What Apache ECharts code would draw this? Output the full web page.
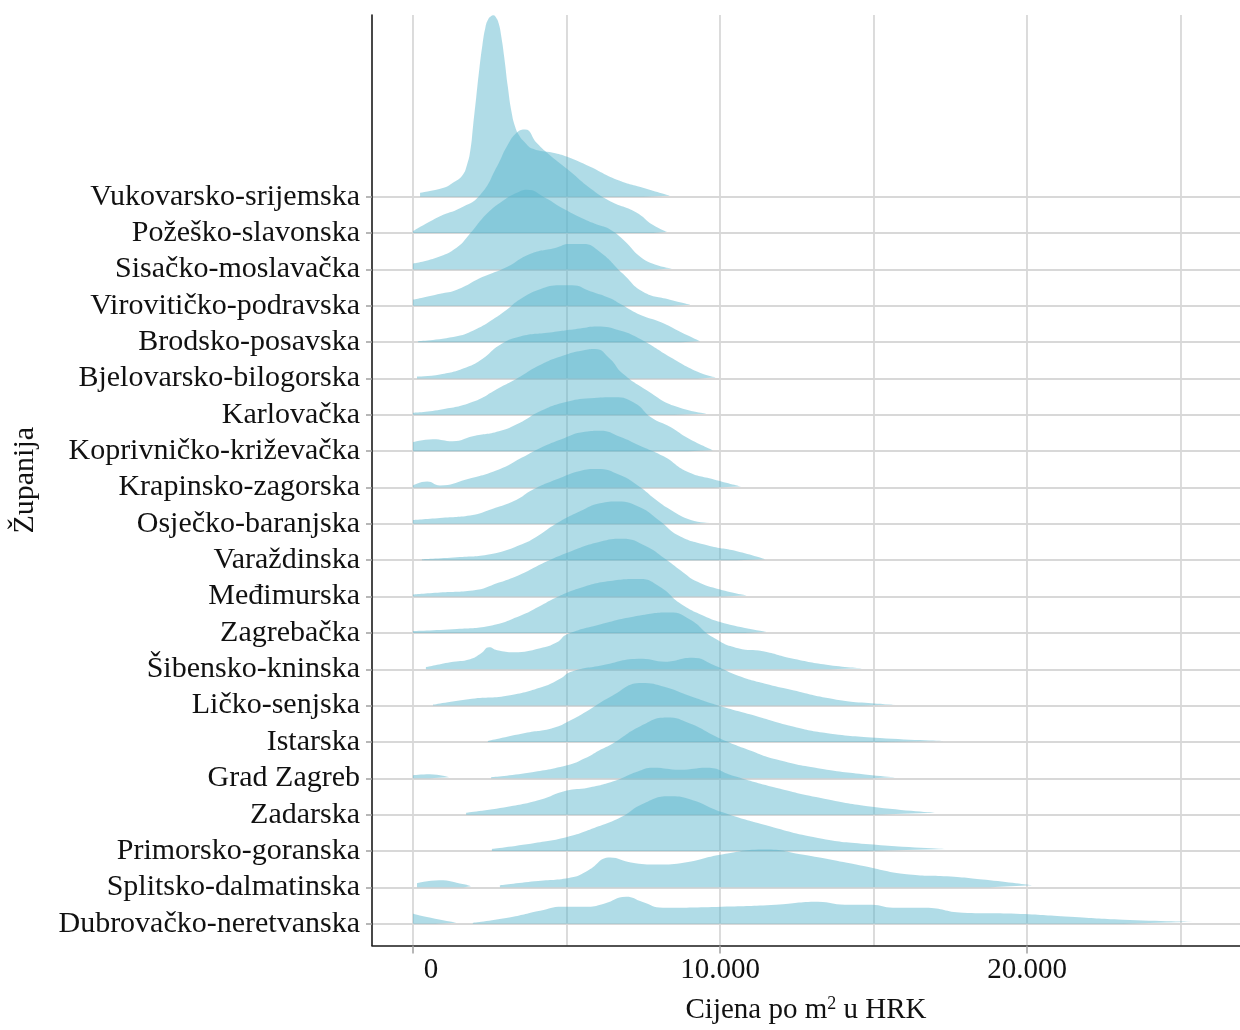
<!DOCTYPE html>
<html>
<head>
<meta charset="utf-8">
<script src="https://cdn.jsdelivr.net/npm/echarts@6/dist/echarts.min.js"></script>
<style>
html,body{margin:0;padding:0;background:#fff;}
#chart{width:1240px;height:1030px;}
</style>
</head>
<body>
<div id="chart"></div>
<script>
// Counties, top to bottom
const counties = ['Vukovarsko-srijemska','Požeško-slavonska','Sisačko-moslavačka','Virovitičko-podravska','Brodsko-posavska','Bjelovarsko-bilogorska','Karlovačka','Koprivničko-križevačka','Krapinsko-zagorska','Osječko-baranjska','Varaždinska','Međimurska','Zagrebačka','Šibensko-kninska','Ličko-senjska','Istarska','Grad Zagreb','Zadarska','Primorsko-goranska','Splitsko-dalmatinska','Dubrovačko-neretvanska'];

// Density curves: price per m2 (HRK) and relative density (null = gap)
const vukX = [230,1000,1300,1600,1760,1870,1960,2060,2160,2260,2360,2450,2540,2620,2700,2790,2880,2980,3090,3210,3330,3450,3600,3910,4560,5020,5770,6640,7490,8370];
const vukH = [4,9,14,21,32,47,72,100,128,152,170,178,181,182,180,174,160,138,110,85,70,62,56,48,44,40,30,17,9,1];
const pozX = [0,880,1530,2180,2740,3060,3390,3650,4040,4460,5110,5770,6420,7260,7820,8270];
const pozH = [2,17,25,38,67,87,101,104,90,78,62,45,32,21,8,1];
const sisX = [0,780,1430,1860,2410,2930,3390,3710,4300,4950,5600,5990,6420,6910,7390,7880,8440];
const sisH = [6,12,22,36,56,69,77,80,72,60,50,45,40,28,13,5,1];
const virX = [0,880,1430,2280,3060,3810,4630,5110,5540,6090,6840,7490,8370,9050];
const virH = [6,12,16,29,39,52,58,62,62,54,32,14,6,1];
const broX = [160,1430,2050,2610,3030,3490,4140,4790,5180,5770,6420,6770,7430,8080,8730,9350];
const broH = [1,6,13,23,32,43,53,57,57,51,44,38,27,20,10,1];
const bjeX = [130,880,1730,2280,2800,3490,4460,5440,5990,6740,7430,8400,9250,9870];
const bjeH = [2,4,11,20,33,42,46,50,52,48,39,21,7,1];
const karX = [0,880,1950,2800,3360,4140,4950,5600,5930,6420,6810,7650,8500,9580];
const karH = [2,5,13,27,36,50,60,65,66,56,42,24,9,1];
const kopX = [0,650,1300,1950,2800,3450,4140,4950,5770,6580,7230,7750,8400,8960,9770];
const kopH = [9,12,10,15,20,28,40,49,53,54,48,34,24,13,1];
const kraX = [0,460,880,1730,2800,3550,4100,4790,5600,6090,6740,7390,8180,8920,9800,10680];
const kraH = [2,6,2,8,18,30,39,48,56,57,51,42,31,16,8,1];
const osiX = [0,880,1950,2480,3360,3880,4790,5440,5990,6740,7390,7880,8400,9050,9670];
const osiH = [4,6,9,14,24,34,46,53,55,49,37,25,14,4,1];
const varX = [290,1430,2510,3550,4100,4630,5440,6090,6680,7390,8050,8630,9580,10550,11470];
const varH = [1,3,6,16,25,36,49,57,59,53,39,25,15,9,1];
const medX = [0,880,1950,2800,3550,4200,5110,6090,6810,7560,8210,8730,9250,10000,10880];
const medH = [2,4,6,14,23,33,45,55,58,51,38,26,15,7,1];
const zagX = [0,1430,2480,3550,4200,4630,5440,6420,7390,8050,8730,9480,10000,10810,11530];
const zagH = [2,4,7,18,28,35,45,52,54,46,29,17,11,5,1];
const sibX = [420,1210,1860,2220,2480,2740,3290,4140,4690,5020,6090,7390,8370,9020,9770,10590,11400,12310,13580,14660];
const sibH = [2,7,10,16,22,19,17,21,27,35,45,54,57,50,32,21,18,11,4,1];
const licX = [650,1920,3060,4230,4790,5150,6090,7460,8210,9090,9840,10590,11470,12310,13450,14620,15730];
const licH = [1,7,10,19,27,34,40,47,44,48,40,30,22,16,8,3,1];
const istX = [2440,3650,4560,5150,5730,6420,7460,8210,9020,10000,11170,12310,13450,15210,17330];
const istH = [1,9,14,22,32,45,59,55,46,36,26,16,9,4,1];
const gzX = [0,550,1170,null,2540,3650,5020,5600,6060,6510,7390,8270,9020,10000,10980,11820,13190,14950,15700];
const gzH = [3,4,1,null,1,5,13,20,28,35,52,61,55,40,28,19,10,3,1];
const zadX = [1730,3090,4140,4980,5700,6580,7300,7820,8700,9580,10420,11820,13390,14950,17030];
const zadH = [2,8,15,24,27,34,43,47,45,47,39,27,16,8,2];
const priX = [2570,3970,5020,5900,6780,7460,8340,9020,10060,11470,13190,14750,17360];
const priH = [2,8,14,23,34,47,55,52,39,26,13,7,2];
const splX = [130,850,1660,1890,null,2830,3970,5180,5700,6420,7100,7980,8860,10060,11470,12670,14430,16160,17390,18790,20160];
const splH = [4,7,3,1,null,2,6,10,17,30,25,23,25,33,38,33,23,13,11,7,2];
const dubX = [0,720,1430,null,1950,3090,4140,4850,5700,6220,6940,7460,8140,10060,11820,13190,14070,14950,15630,16680,17910,19640,21400,23130,25410];
const dubH = [10,5,1,null,1,6,13,17,17,20,27,22,16,17,19,22,19,19,16,16,11,10,7,4,2];

// Axis ticks
const xLabelTicks = [0, 10000, 20000];
const xGridTicks = [0, 5000, 10000, 15000, 20000, 25000];

const ridgeX = [vukX,pozX,sisX,virX,broX,bjeX,karX,kopX,kraX,osiX,varX,medX,zagX,sibX,licX,istX,gzX,zadX,priX,splX,dubX];
const ridgeH = [vukH,pozH,sisH,virH,broH,bjeH,karH,kopH,kraH,osiH,varH,medH,zagH,sibH,licH,istH,gzH,zadH,priH,splH,dubH];

const n = counties.length;
const baselines = counties.map((c, i) => n - 1 - i);
const HEIGHT_SCALE = 1 / 36.45;
const FILL = 'rgb(88,181,205)';
const SERIF = '"Liberation Serif", "Times New Roman", serif';

const series = [];
counties.forEach((name, idx) => {
  const base = n - 1 - idx;
  const xs = ridgeX[idx], hs = ridgeH[idx];
  let seg = [];
  const flush = () => {
    if (seg.length) {
      series.push({
        type: 'line', name: name, data: seg,
        smooth: 0.5,
        symbol: 'none', showSymbol: false,
        lineStyle: { width: 0, opacity: 0 },
        areaStyle: { origin: base, color: FILL, opacity: 0.47 },
        silent: true, z: 2
      });
      seg = [];
    }
  };
  xs.forEach((x, i) => {
    if (x === null) flush();
    else seg.push([x, base + hs[i] * HEIGHT_SCALE]);
  });
  flush();
});

const fmtNum = v => {
  if (v === 0) return '{z|0}';
  return String(Math.round(v)).replace(/\B(?=(\d{3})+(?!\d))/g, '.');
};

const chart = echarts.init(document.getElementById('chart'), null, { renderer: 'canvas' });
chart.setOption({
  animation: false,
  backgroundColor: '#ffffff',
  grid: { left: 372, right: 0, top: 15, bottom: 82, containLabel: false },
  xAxis: [
    {
      type: 'value', min: -1335, max: 26935, position: 'bottom',
      axisLine: { show: true, onZero: false, lineStyle: { color: '#1a1a1a', width: 1.6 } },
      axisTick: { show: true, customValues: xLabelTicks, length: 8, lineStyle: { color: '#a0a0a0', width: 1.5 } },
      axisLabel: {
        customValues: xLabelTicks, formatter: fmtNum, margin: 10,
        fontFamily: SERIF, fontSize: 29, color: '#111',
        rich: { z: { padding: [0, 0, 0, 36], fontFamily: SERIF, fontSize: 29, color: '#111' } }
      },
      splitLine: { show: false },
      name: 'Cijena po m{sup|2} u HRK', nameLocation: 'middle', nameGap: 50,
      nameTextStyle: {
        fontFamily: SERIF, fontSize: 29, color: '#111',
        rich: { sup: { fontFamily: SERIF, fontSize: 18, color: '#111', verticalAlign: 'top', padding: [0, 0, 12, 0] } }
      }
    },
    {
      type: 'value', min: -1335, max: 26935, position: 'top',
      axisLine: { show: false, onZero: false },
      axisTick: { show: false, customValues: xGridTicks },
      axisLabel: { show: false, customValues: xGridTicks },
      splitLine: { show: true, lineStyle: { color: '#d8d8d8', width: 1.8 } }
    }
  ],
  yAxis: {
    type: 'value', min: -0.6, max: 25,
    axisLine: { show: true, onZero: false, lineStyle: { color: '#1a1a1a', width: 1.6 } },
    axisTick: { show: true, customValues: baselines, length: 6, lineStyle: { color: '#a0a0a0', width: 1.5 } },
    axisLabel: {
      customValues: baselines, margin: 12,
      formatter: v => counties[n - 1 - Math.round(v)],
      fontFamily: SERIF, fontSize: 30, color: '#111'
    },
    splitLine: { show: true, lineStyle: { color: '#d8d8d8', width: 1.8 } },
    name: 'Županija', nameLocation: 'middle', nameRotate: 90, nameGap: 332,
    nameTextStyle: { fontFamily: SERIF, fontSize: 30, color: '#111' }
  },
  series: series
});
</script>
</body>
</html>
